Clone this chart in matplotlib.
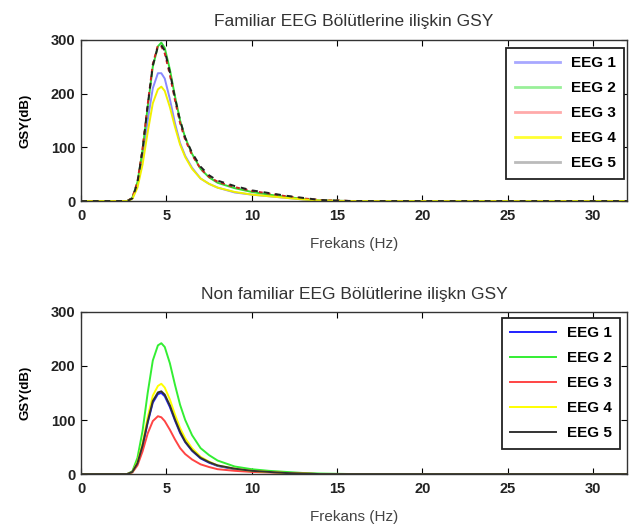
import matplotlib
matplotlib.use("Agg")
import matplotlib.pyplot as plt
from matplotlib.lines import Line2D

plt.rcParams["font.family"] = ["Liberation Sans", "DejaVu Sans"]

# frequency grid (Hz)
freq = [0, 2.7, 3.0, 3.3, 3.6, 3.9, 4.2, 4.5, 4.7, 4.9, 5.2, 5.5, 5.8, 6.1,
        6.5, 7.0, 7.5, 8.0, 9.0, 10.0, 11.0, 12.0, 13.0, 14.0, 16.0, 32.0]

# familiar segments
fam_eeg1 = [0, 0, 5, 30, 80, 150, 210, 238, 238, 228, 190, 145, 108, 84, 62, 42, 32, 25, 16, 12, 9, 6, 3, 1, 0, 0]
fam_eeg2 = [0, 0, 6, 35, 95, 175, 250, 288, 295, 285, 245, 195, 150, 118, 88, 60, 44, 34, 24, 17, 12, 8, 4, 1, 0, 0]
fam_eeg3 = [0, 0, 6, 36, 98, 180, 255, 290, 288, 275, 235, 188, 145, 114, 86, 60, 45, 36, 26, 19, 14, 9, 5, 2, 0, 0]
fam_eeg4 = [0, 0, 4, 25, 68, 128, 182, 208, 213, 205, 175, 138, 105, 82, 60, 42, 32, 25, 17, 12, 9, 6, 3, 1, 0, 0]
fam_eeg5 = [0, 0, 5, 34, 95, 178, 252, 288, 290, 280, 240, 192, 150, 118, 90, 64, 48, 38, 28, 20, 15, 10, 6, 2, 0, 0]

# non familiar segments
non_eeg1 = [0, 0, 4, 20, 52, 95, 132, 148, 150, 144, 124, 99, 76, 59, 43, 29, 21, 15, 9, 6, 4, 2, 1, 0, 0, 0]
non_eeg2 = [0, 0, 5, 30, 80, 150, 210, 238, 242, 235, 205, 165, 128, 100, 72, 48, 35, 25, 14, 9, 6, 4, 2, 1, 0, 0]
non_eeg3 = [0, 0, 3, 16, 42, 75, 98, 107, 105, 98, 82, 64, 48, 37, 27, 18, 13, 9, 6, 4, 3, 2, 1, 0, 0, 0]
non_eeg4 = [0, 0, 4, 22, 57, 105, 145, 163, 167, 160, 138, 110, 85, 66, 48, 32, 23, 16, 10, 6, 4, 2, 1, 0, 0, 0]
non_eeg5 = [0, 0, 4, 20, 53, 97, 135, 151, 153, 147, 127, 101, 78, 60, 44, 30, 22, 16, 10, 6, 4, 2, 1, 0, 0, 0]

labels = ["EEG 1", "EEG 2", "EEG 3", "EEG 4", "EEG 5"]
fam_colors = ["#a8a8ff", "#99f099", "#ffaaaa", "#ffff33", "#bbbbbb"]
non_colors = ["#2020ff", "#33ee33", "#ff4444", "#ffff00", "#333333"]

fig = plt.figure(figsize=(6.29, 5.25), dpi=100)
ax1 = fig.add_axes([0.129, 0.617, 0.868, 0.307])
ax2 = fig.add_axes([0.129, 0.097, 0.868, 0.309])


def style_axes(ax, title, tpad):
    ax.set_xlim(0, 32)
    ax.set_ylim(0, 300)
    ax.set_xticks([0, 5, 10, 15, 20, 25, 30])
    ax.set_yticks([0, 100, 200, 300])
    ax.tick_params(direction="in", top=True, right=True, length=4, width=0.8,
                   labelsize=10.5)
    ax.tick_params(axis="x", pad=6)
    ax.tick_params(axis="y", pad=4)
    for lab in ax.get_xticklabels() + ax.get_yticklabels():
        lab.set_fontweight("bold")
        lab.set_color("#222222")
    for sp in ax.spines.values():
        sp.set_linewidth(1.0)
        sp.set_color("#333333")
    ax.set_title(title, fontsize=12.5, color="#333333", pad=tpad)
    ax.set_xlabel("Frekans (Hz)", fontsize=11, color="#444444", labelpad=10)
    ax.set_ylabel("GSY(dB)", fontsize=9.5, fontweight="bold", labelpad=14)


def style_legend(leg):
    leg.get_frame().set_edgecolor("#222222")
    leg.get_frame().set_linewidth(1.3)


leg_kw = dict(prop={"weight": "bold", "size": 11}, handlelength=3.0,
              labelspacing=0.72, fancybox=False, framealpha=1, borderpad=0.55,
              handletextpad=0.7, borderaxespad=0)

# top panel: drawn curves look darker than the legend swatches
fam = [fam_eeg1, fam_eeg2, fam_eeg3, fam_eeg4, fam_eeg5]
draw_colors = ["#8888ff", "#33dd33", "#cc2222", "#f0f000", "#222222"]
draw_styles = ["-", "-", (0, (2, 2)), "-", (0, (3, 3))]
for vals, c, ls in zip(fam, draw_colors, draw_styles):
    ax1.plot(freq, vals, color=c, lw=1.4, ls=ls)
style_axes(ax1, "Familiar EEG Bölütlerine ilişkin GSY", 10)
handles = [Line2D([0], [0], color=c, lw=2) for c in fam_colors]
leg1 = ax1.legend(handles, labels, loc="upper right", bbox_to_anchor=(0.995, 0.95), **leg_kw)
style_legend(leg1)

# bottom panel
non = [non_eeg1, non_eeg2, non_eeg3, non_eeg4, non_eeg5]
for vals, c, lab in zip(non, non_colors, labels):
    ax2.plot(freq, vals, color=c, lw=1.4, label=lab)
style_axes(ax2, "Non familiar EEG Bölütlerine ilişkn GSY", 9)
leg2 = ax2.legend(loc="upper right", bbox_to_anchor=(0.987, 0.963), **leg_kw)
style_legend(leg2)

fig.savefig("out.png", dpi=100)
